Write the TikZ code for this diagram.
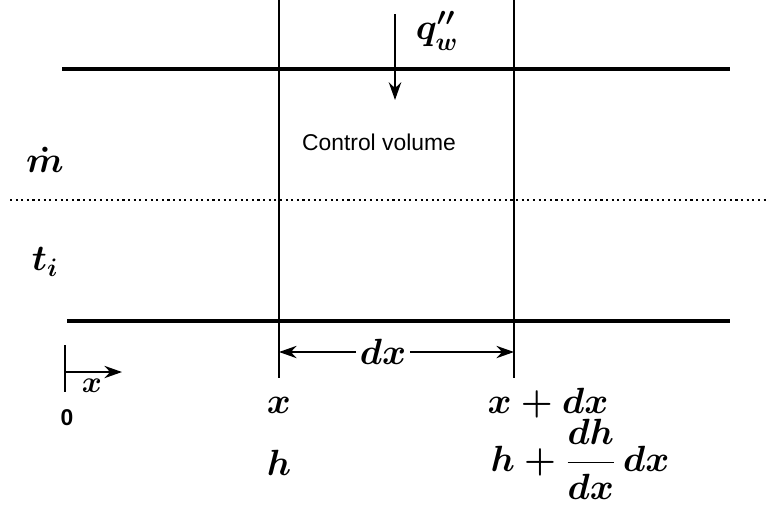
\documentclass[tikz,border=0pt]{standalone}
\usepackage{amsmath}
\usepackage{fontspec}
\newfontfamily\labelfont{Liberation Sans}
\usetikzlibrary{arrows.meta}
\begin{document}
\begin{tikzpicture}[
        wall/.style={line width=2.2pt},
        bound/.style={line width=1.1pt},
        sym/.style={font=\fontsize{21}{25}\selectfont\boldmath},
        >={Stealth[length=10pt,width=7pt]}
    ]
        \useasboundingbox (0,0) rectangle (15.34,-10.1);

        % Pipe walls and centre line
        \coordinate (tl) at (1.24,-1.38);
        \coordinate (tr) at (14.6,-1.38);
        \coordinate (bl) at (1.34,-6.42);
        \coordinate (br) at (14.6,-6.42);
        \coordinate (cl) at (0.2,-4.0);
        \coordinate (cr) at (15.34,-4.0);
        \draw[wall] (tl) -- (tr);
        \draw[wall] (bl) -- (br);
        \draw[line width=1.2pt, dotted] (cl) -- (cr);

        % Control volume boundaries
        \coordinate (ltop) at (5.58,0);
        \coordinate (lbot) at (5.58,-7.56);
        \coordinate (rtop) at (10.28,0);
        \coordinate (rbot) at (10.28,-7.56);
        \draw[bound] (ltop) -- (lbot);
        \draw[bound] (rtop) -- (rbot);

        % Heat flux
        \coordinate (qtop) at (7.9,-0.28);
        \coordinate (qbot) at (7.9,-2.0);
        \draw[line width=1.5pt,->] (qtop) -- (qbot);
        \node[sym] (q) at (8.74,-0.62) {$q''_{w}$};
        \node[font=\labelfont\fontsize{13}{15}\selectfont] (cv) at (7.58,-2.84) {Control volume};

        % Flow labels
        \node[sym] (mdot) at (0.9,-3.2) {$\dot m$};
        \node[sym] (ti) at (0.9,-5.24) {$t_i$};

        % Width dx
        \coordinate (dl) at (5.58,-7.04);
        \coordinate (dr) at (10.28,-7.04);
        \node[sym, fill=white, inner sep=2pt] (dx) at (7.66,-7.04) {$dx$};
        \draw[bound,->] (dx) -- (dl);
        \draw[bound,->] (dx) -- (dr);

        % Axis origin
        \coordinate (o1) at (1.3,-6.9);
        \coordinate (o2) at (1.3,-7.84);
        \coordinate (oc) at (1.3,-7.44);
        \coordinate (ox) at (2.44,-7.44);
        \draw[bound] (o1) -- (o2);
        \draw[bound,->] (oc) -- (ox);
        \node[font=\fontsize{18}{21}\selectfont\boldmath] (xlab) at (1.84,-7.72) {$x$};
        \node[font=\labelfont\bfseries\fontsize{13}{15}\selectfont] (zero) at (1.34,-8.36) {0};

        % Positions and enthalpies
        \node[sym] (xa) at (5.58,-8.1) {$x$};
        \node[sym] (xb) at (10.96,-8.06) {$x+dx$};
        \node[sym] (ha) at (5.58,-9.26) {$h$};
        \node[sym, inner sep=0pt] (hb) at (11.6,-9.18) {$h+\dfrac{dh}{dx}\,dx$};
    \end{tikzpicture}
\end{document}
